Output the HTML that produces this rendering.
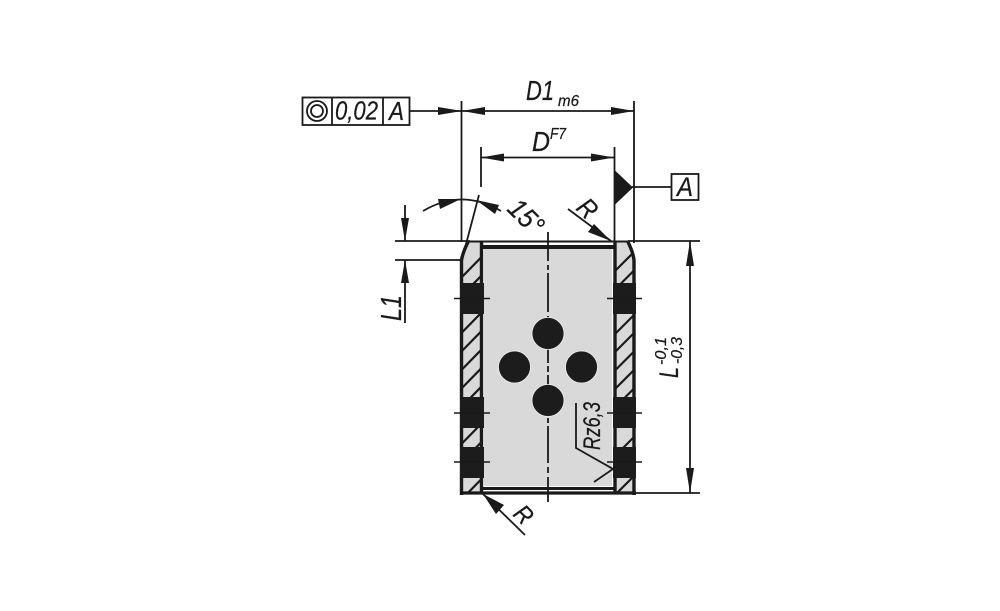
<!DOCTYPE html>
<html><head><meta charset="utf-8"><style>
html,body{margin:0;padding:0;background:#fff}
svg{display:block}
text{font-family:"Liberation Sans",sans-serif;font-style:italic;fill:#1a1a1a;stroke:#1a1a1a;stroke-width:.25}
</style></head><body>
<svg width="1000" height="611" viewBox="0 0 1000 611" xmlns="http://www.w3.org/2000/svg">
<defs>
<clipPath id="wl"><path d="M462 260 Q463 252 469 242 L481 242 L481 493 L462 493Z"/></clipPath>
<clipPath id="wr"><path d="M634 260 Q633 252 628 242 L615 242 L615 493 L634 493Z"/></clipPath>
</defs>
<!-- gray fills -->
<rect x="484" y="249" width="128" height="237" fill="#d9d9d9"/>
<path d="M462 260 Q463 252 469 242 L481 242 L481 493 L462 493Z" fill="#d9d9d9"/>
<path d="M634 260 Q633 252 628 242 L615 242 L615 493 L634 493Z" fill="#d9d9d9"/>
<!-- hatching -->
<g stroke="#1a1a1a" stroke-width="2.2" fill="none">
<g clip-path="url(#wl)">
<path d="M461 278 L481 257.5 M461 296.5 L481 276 M461 333.5 L481 313 M461 352 L481 331.5 M461 370.5 L481 350 M461 389 L481 368.5 M461 407.5 L481 387 M461 444.500 L481 424 M461 463 L481 442.500 M461 500 L481 479.5"/>
</g>
<g clip-path="url(#wr)">
<path d="M614 272 L634 252 M614 290.500 L634 270.500 M614 335 L634 315 M614 353 L634 333 M614 371.500 L634 351.500 M614 390 L634 370 M614 408.500 L634 388.500 M614 457 L634 437 M614 496 L634 476"/>
</g>
</g>
<!-- part outline -->
<g fill="none" stroke="#1a1a1a" stroke-linejoin="miter">
<path d="M461.500 495 L461.500 260 Q463 252 468 242" stroke-width="3.4"/>
<path d="M634 495 L634 260 Q633 252 628 242" stroke-width="3.4"/>
<path d="M468 241.500 L628 241.500" stroke-width="2"/>
<path d="M481.500 242 L481.500 494 M615 242 L615 494" stroke-width="3.4"/>
<path d="M481 247 L615 247" stroke-width="4"/>
<path d="M481 488.500 L615 488.500" stroke-width="3"/>
<path d="M460 493 L636 493" stroke-width="3.2"/>
</g>
<!-- black seal blocks -->
<g fill="#1c1c1c">
<rect x="460" y="283" width="24" height="31"/>
<rect x="460" y="397" width="24" height="31"/>
<rect x="460" y="447" width="24" height="31"/>
<rect x="613" y="283" width="23" height="31"/>
<rect x="613" y="397" width="23" height="31"/>
<rect x="613" y="447" width="23" height="31"/>
</g>
<g stroke="#1a1a1a" stroke-width="1.6">
<path d="M454 298.500H490 M454 413H490 M454 462H490 M607 298.500H642 M607 413H642 M607 462H642"/>
</g>
<!-- centre line -->
<path d="M548 232V261 M548 265V270 M548 273V312 M548 316V321 M548 324V363 M548 366V372 M548 375V414 M548 418V423 M548 426V463 M548 467V473 M548 477V502" stroke="#1a1a1a" stroke-width="1.8" fill="none"/>
<!-- holes -->
<g fill="#1c1c1c" stroke="#eee" stroke-width="0.8">
<circle cx="548" cy="333.500" r="16"/>
<circle cx="514.500" cy="367" r="16"/>
<circle cx="581.500" cy="367" r="16"/>
<circle cx="548" cy="400.500" r="16"/>
</g>
<!-- dimension and extension lines -->
<g stroke="#1a1a1a" stroke-width="1.8" fill="none">
<path d="M461.500 101 V242"/>
<path d="M634 101 V243"/>
<path d="M481 147 V187"/>
<path d="M614.500 147 V242"/>
<path d="M410 111 H634"/>
<path d="M481 157.500 H614"/>
<path d="M632 187 H671"/>
<path d="M395 241 H470"/>
<path d="M395 260 H462"/>
<path d="M628 241 H700"/>
<path d="M634 493 H700"/>
<path d="M690 241 V493"/>
<path d="M405 205 V241 M405 260 V323"/>
<path d="M479 195 L465 248"/>
<path d="M423 211 Q462 188 501 211"/>
<path d="M568 209 L611 241"/>
<path d="M483 494 L525 535"/>
<path d="M576 403 V448 L613 469 L594 482"/>
</g>
<!-- arrowheads -->
<g fill="#1a1a1a">
<path d="M438 107 L462 111 L438 115Z"/>
<path d="M485 107 L462 111 L485 115Z"/>
<path d="M611 107 L634 111 L611 115Z"/>
<path d="M504 153.500 L481 157.500 L504 161.500Z"/>
<path d="M591 153.500 L614 157.500 L591 161.500Z"/>
<path d="M686 266 L690 241 L694 266Z"/>
<path d="M686 468 L690 493 L694 468Z"/>
<path d="M401 218 L405 241 L409 218Z"/>
<path d="M401 283 L405 260 L409 283Z"/>
<path d="M438 199 L461 199 L440 209Z"/>
<path d="M476 200 L499 205 L495 214Z"/>
<path d="M594 224 L611 241 L588 232Z"/>
<path d="M483 494 L504 505 L496 514Z"/>
<path d="M614.500 170 L633 187.500 L614.500 205Z"/>
</g>
<!-- tolerance frame -->
<g fill="#fff" stroke="#1a1a1a" stroke-width="1.8">
<rect x="302.500" y="97.500" width="107" height="27.500"/>
<rect x="671.500" y="174" width="27" height="26"/>
</g>
<path d="M332 97.500 V125 M383 97.500 V125" stroke="#1a1a1a" stroke-width="1.8"/>
<circle cx="317" cy="111" r="10" fill="none" stroke="#1a1a1a" stroke-width="1.8"/>
<circle cx="317" cy="111" r="6" fill="none" stroke="#1a1a1a" stroke-width="1.8"/>
<!-- labels -->
<text x="335" y="119.500" font-size="26" textLength="43" lengthAdjust="spacingAndGlyphs">0,02</text>
<text x="389" y="120" font-size="26" textLength="15" lengthAdjust="spacingAndGlyphs">A</text>
<text x="677" y="196" font-size="27" textLength="16" lengthAdjust="spacingAndGlyphs">A</text>
<text x="526" y="100" font-size="28" textLength="28" lengthAdjust="spacingAndGlyphs">D1</text>
<text x="558" y="106" font-size="16" textLength="21" lengthAdjust="spacingAndGlyphs">m6</text>
<text x="532" y="151" font-size="28" textLength="18" lengthAdjust="spacingAndGlyphs">D</text>
<text x="550" y="139" font-size="16" textLength="16" lengthAdjust="spacingAndGlyphs">F7</text>
<text transform="translate(506,210) rotate(45)" font-size="28" textLength="38" lengthAdjust="spacingAndGlyphs">15°</text>
<text transform="translate(575,209) rotate(45)" font-size="27" textLength="17" lengthAdjust="spacingAndGlyphs">R</text>
<text transform="translate(512,515) rotate(45)" font-size="25" textLength="16" lengthAdjust="spacingAndGlyphs">R</text>
<text transform="translate(401,321) rotate(-90)" font-size="29" textLength="26" lengthAdjust="spacingAndGlyphs">L1</text>
<text transform="translate(678,378) rotate(-90)" font-size="27" textLength="11" lengthAdjust="spacingAndGlyphs">L</text>
<text transform="translate(666,365) rotate(-90)" font-size="16" textLength="28" lengthAdjust="spacingAndGlyphs">-0,1</text>
<text transform="translate(682,364) rotate(-90)" font-size="16" textLength="27" lengthAdjust="spacingAndGlyphs">-0,3</text>
<text transform="translate(600,450) rotate(-90)" font-size="24" textLength="48" lengthAdjust="spacingAndGlyphs">Rz6,3</text>
</svg>
</body></html>
